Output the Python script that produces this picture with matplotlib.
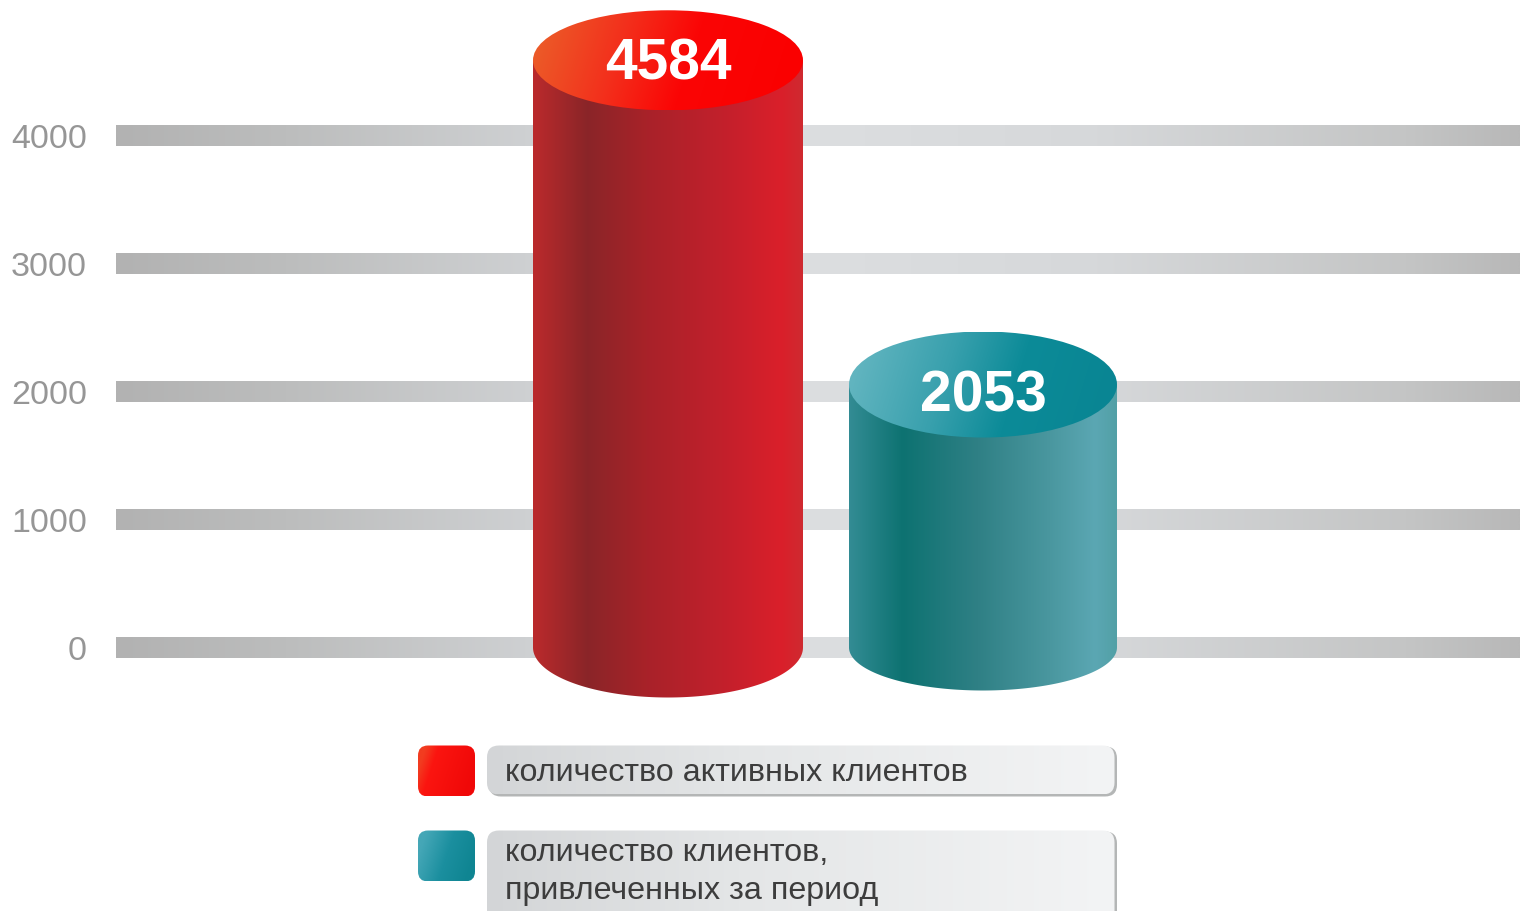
import numpy as np
import matplotlib
matplotlib.use("Agg")
import matplotlib.pyplot as plt
from matplotlib.colors import to_rgb
from matplotlib.patches import FancyBboxPatch, Polygon, Ellipse

# Chart data
tick_values = [0, 1000, 2000, 3000, 4000]
tick_labels = ["0", "1000", "2000", "3000", "4000"]
series_values = [4584, 2053]
series_names = ["количество активных клиентов",
                "количество клиентов,\nпривлеченных за период"]

W, H = 1520, 912
PX_PER_UNIT = 0.1281
ZERO_PX = 648.5
BODY = "Liberation Sans"

RED_SIDE = [(0, "#bb2a2c"), (.2, "#8a2528"), (.42, "#a82229"), (.7, "#c2202c"),
            (.92, "#da1f2a"), (1, "#cf2a30")]
TEAL_SIDE = [(0, "#338c94"), (.2, "#0d7271"), (.48, "#2f8085"), (.75, "#4a979f"),
             (.92, "#5ba7b3"), (1, "#52a0a6")]
RED_TOP = [(0, "#ec5a28"), (.3, "#f3301c"), (.58, "#fb0505"), (1, "#fa0000")]
TEAL_TOP = [(0, "#62b5c0"), (.35, "#38a0ad"), (.62, "#0c8b98"), (1, "#098593")]
GRID = [(0, "#b2b2b2"), (.12, "#bcbdbd"), (.3, "#cfd1d3"), (.5, "#dcdee0"),
        (.7, "#d6d8da"), (.92, "#c4c5c5"), (1, "#b8b8b8")]
LABEL_FILL = [(0, "#d3d5d7"), (.4, "#e4e6e7"), (1, "#f3f4f5")]


def ramp(stops, t):
    pos = [s[0] for s in stops]
    rgb = np.array([to_rgb(s[1]) for s in stops])
    return np.stack([np.interp(t, pos, rgb[:, i]) for i in range(3)], axis=-1)


def paint(ax, stops, extent, clip=None, zorder=2, tilt=0.0):
    """Fill a rectangle with a left-to-right colour ramp, optionally tilted and clipped."""
    xs = np.linspace(0, 1, 400)
    ys = np.linspace(0, 1, 120)
    gx, gy = np.meshgrid(xs, ys)
    img = ramp(stops, np.clip(gx + tilt * (gy - .5), 0, 1))
    im = ax.imshow(img, extent=extent, origin="lower", aspect="auto",
                   interpolation="bilinear", zorder=zorder)
    if clip is not None:
        clip.set_transform(ax.transData)
        im.set_clip_path(clip)
    return im


fig = plt.figure(figsize=(W / 100, H / 100), dpi=100, facecolor="white")

# Value axes: x in pixels from the start of the bands, y in client counts
ax = fig.add_axes([116 / W, 0, 1 - 116 / W, 1])
ax.set_xlim(116, W)
y_low = -(H - ZERO_PX) / PX_PER_UNIT
y_high = ZERO_PX / PX_PER_UNIT
band_half = 10.5 / PX_PER_UNIT

for v in tick_values:
    paint(ax, GRID, (116, W, v - band_half, v + band_half), zorder=1)


def cylinder(value, cx, a, b_top, b_bottom, side, top, label, label_drop):
    b_t, b_b = b_top / PX_PER_UNIT, b_bottom / PX_PER_UNIT
    th = np.linspace(np.pi, 2 * np.pi, 120)
    arc_x = cx + a * np.cos(th)
    arc_y = b_b * np.sin(th)
    body = np.vstack([[[cx - a, value]], np.column_stack([arc_x, arc_y]), [[cx + a, value]]])
    paint(ax, side, (cx - a, cx + a, -b_b, value),
          Polygon(body, closed=True), zorder=3)
    paint(ax, top, (cx - a, cx + a, value - b_t, value + b_t),
          Ellipse((cx, value), 2 * a, 2 * b_t), zorder=4, tilt=-0.12)
    ax.text(cx, value - label_drop / PX_PER_UNIT, label, color="white", fontsize=41,
            fontweight="bold", family=BODY, ha="center", va="center_baseline", zorder=5)


cylinder(series_values[0], 668, 135, 50, 50, RED_SIDE, RED_TOP,
         str(series_values[0]), -2.5)
cylinder(series_values[1], 983, 134, 53, 43, TEAL_SIDE, TEAL_TOP,
         str(series_values[1]), 5)

ax.set_xlim(116, W)
ax.set_ylim(y_low, y_high)
ax.set_yticks(tick_values, tick_labels)
ax.tick_params(axis="y", length=0, pad=21, labelcolor="#969696", labelsize=24.5)
for lab in ax.get_yticklabels():
    lab.set_family(BODY)
ax.set_xticks([])
for s in ax.spines.values():
    s.set_visible(False)
ax.patch.set_alpha(0)

# Legend layer in pixel coordinates
lg = fig.add_axes([0, 0, 1, 1])
lg.axis("off")
lg.patch.set_alpha(0)


def rounded(x0, y0, x1, y1, r):
    return FancyBboxPatch((x0 + r, y0 + r), x1 - x0 - 2 * r, y1 - y0 - 2 * r,
                          boxstyle=f"round,pad={r},rounding_size={r}", linewidth=0)


def legend_row(y0, y1, sw_stops, text, text_ys):
    y_sw = y0 + 51
    paint(lg, sw_stops, (418, 475, y0, y_sw), rounded(418, y0, 475, y_sw, 10), tilt=.3)
    shadow = rounded(489, y0 + 1, 1117, y1 + 2, 12)
    shadow.set_facecolor("#b4b6b6")
    lg.add_patch(shadow)
    paint(lg, LABEL_FILL, (487, 1114.5, y0, y1), rounded(487, y0, 1114.5, y1, 12), zorder=3)
    for line, yy in zip(text.split("\n"), text_ys):
        lg.text(505, yy, line, family=BODY, fontsize=23.2, color="#3d3d3d",
                ha="left", va="center", zorder=4)


legend_row(746.5, 795.5, [(0, "#f23c20"), (.22, "#fb1510"), (1, "#f00808")], series_names[0], [773])
legend_row(831.5, 930, [(0, "#45a7b7"), (.5, "#1b8f9f"), (1, "#0f8592")], series_names[1], [853.5, 891.5])
lg.set_xlim(0, W)
lg.set_ylim(H, 0)

fig.savefig("out.png", dpi=100)
